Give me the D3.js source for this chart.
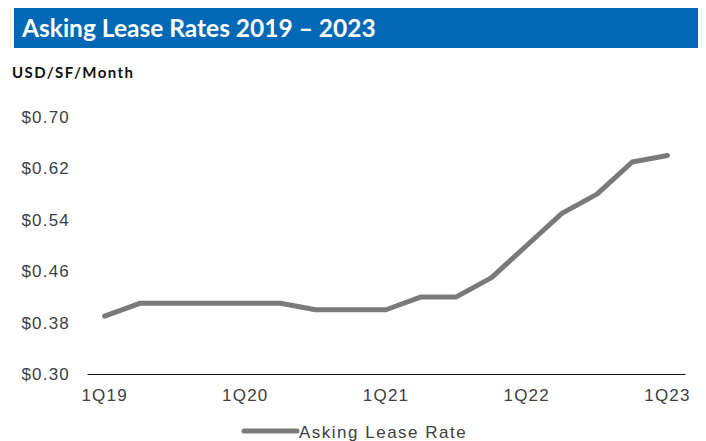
<!DOCTYPE html>
<html>
<head>
<meta charset="utf-8">
<script src="https://cdn.jsdelivr.net/npm/d3@7"></script>
<style>
  body { margin: 0; background: #fff; }
  svg { display: block; }
</style>
</head>
<body>
<div id="chart"></div>
<script>
// quarters and asking rates
var quarters = ['1Q19','2Q19','3Q19','4Q19','1Q20','2Q20','3Q20','4Q20',
                '1Q21','2Q21','3Q21','4Q21','1Q22','2Q22','3Q22','4Q22','1Q23'];
var rates = [0.39, 0.41, 0.41, 0.41, 0.41, 0.41, 0.40, 0.40,
             0.40, 0.42, 0.42, 0.45, 0.50, 0.55, 0.58, 0.63, 0.64];
var yTicks = [0.30, 0.38, 0.46, 0.54, 0.62, 0.70];
var xLabels = ['1Q19','1Q20','1Q21','1Q22','1Q23'];
var seriesName = 'Asking Lease Rate';

var width = 706, height = 441;
var svg = d3.select('#chart').append('svg')
    .attr('width', width)
    .attr('height', height);

/* title bar */
svg.append('rect')
    .attr('x', 14).attr('y', 8)
    .attr('width', 684).attr('height', 40)
    .attr('fill', '#0068b4');
svg.append('text')
    .attr('x', 22).attr('y', 37)
    .attr('fill', '#fff')
    .style('font-family', 'Lato, sans-serif')
    .style('font-weight', 'bold')
    .style('font-size', '24.5px')
    .text('Asking Lease Rates 2019 \u2013 2023');

svg.append('text')
    .attr('x', 12).attr('y', 78)
    .attr('fill', '#111')
    .style('font-family', 'Lato, sans-serif')
    .style('font-weight', 'bold')
    .style('font-size', '15px')
    .style('letter-spacing', '1.4px')
    .text('USD/SF/Month');

// scales
var x = d3.scaleBand().domain(quarters).range([87, 685]);
var y = d3.scaleLinear().domain([0.30, 0.70]).range([374, 117]);

var font = '"Liberation Sans", Arial, sans-serif';

/* y axis labels, no line */
svg.append('g').selectAll('text')
    .data(yTicks)
    .enter().append('text')
    .attr('x', 70)
    .attr('y', function(d) { return y(d); })
    .attr('dy', '0.35em')
    .attr('text-anchor', 'end')
    .attr('fill', '#404040')
    .style('font-family', font)
    .style('font-size', '17px')
    .style('letter-spacing', '1.2px')
    .text(function(d) { return '$' + d.toFixed(2); });

/* x axis */
var xAxis = d3.axisBottom(x)
    .tickValues(xLabels)
    .tickSize(0)
    .tickPadding(15);
var gx = svg.append('g')
    .attr('transform', 'translate(0,374)')
    .call(xAxis);
gx.select('.domain').attr('stroke', '#111').attr('stroke-width', 1.2);
gx.selectAll('text')
    .attr('fill', '#404040')
    .style('font-family', font)
    .style('font-size', '17px')
    .style('letter-spacing', '1.2px');

/* line */
var line = d3.line()
    .x(function(d, i) { return x(quarters[i]) + x.bandwidth() / 2; })
    .y(function(d) { return y(d); });

svg.append('path')
    .datum(rates)
    .attr('fill', 'none')
    .attr('stroke', '#7a7a7a')
    .attr('stroke-width', 5)
    .attr('stroke-linecap', 'round')
    .attr('stroke-linejoin', 'round')
    .attr('d', line);

/* legend */
svg.append('line')
    .attr('x1', 244).attr('x2', 297)
    .attr('y1', 431).attr('y2', 431)
    .attr('stroke', '#7a7a7a')
    .attr('stroke-width', 5)
    .attr('stroke-linecap', 'round');
svg.append('text')
    .attr('x', 299).attr('y', 438)
    .attr('fill', '#404040')
    .style('font-family', font)
    .style('font-size', '17px')
    .style('letter-spacing', '1.5px')
    .text(seriesName);
</script>
</body>
</html>
